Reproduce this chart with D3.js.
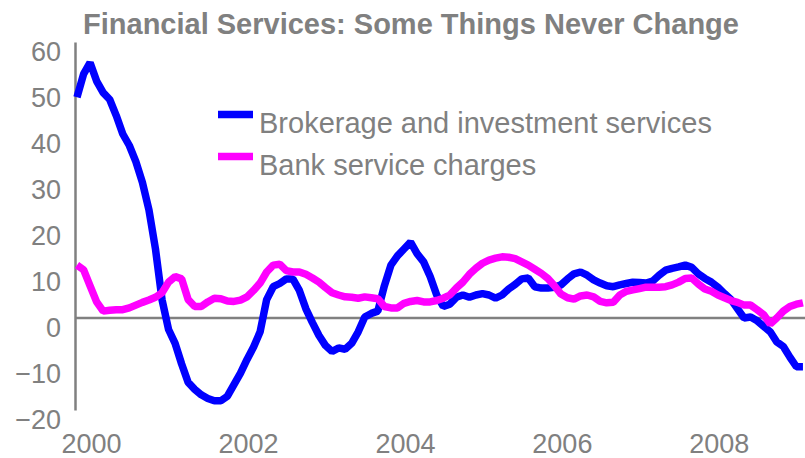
<!DOCTYPE html>
<html>
<head>
<meta charset="utf-8">
<script src="https://cdn.jsdelivr.net/npm/d3@7/dist/d3.min.js"></script>
<style>
  html, body { margin: 0; padding: 0; background: #fff; }
  svg { display: block; }
  text { font-family: "Liberation Sans", Arial, sans-serif; fill: #808080; }
</style>
</head>
<body>
<div id="chart"></div>
<script>
// Monthly data, Jan 2000 onward (month index 0 = Jan 2000)
const brokerage = [
  48, 53, 55.5, 51.5, 49, 47.5, 44, 40, 37.5, 34, 29.5, 23.5,
  15, 4, -2.5, -5.5, -10, -14, -15.5, -16.7, -17.5, -18, -18, -17,
  -14.5, -12, -9, -6.3, -3, 4, 6.8, 7.5, 8.5, 8.5, 6, 2,
  -1, -3.8, -6, -7.3, -6.5, -6.8, -5.5, -3, 0.2, 1, 1.5, 7,
  11.5, 13.5, 15, 16.5, 14, 12.2, 9, 5, 2.5, 3, 4.5, 5,
  4.5, 5, 5.3, 5, 4.3, 5, 6.3, 7.3, 8.5, 8.7, 6.8, 6.5,
  6.5, 6.7, 7.2, 8.5, 9.6, 10, 9.3, 8.3, 7.6, 7, 6.8, 7.2,
  7.5, 7.8, 7.7, 7.6, 8, 9.3, 10.4, 10.8, 11.1, 11.5, 11, 9.6,
  8.6, 7.8, 6.7, 5.3, 4, 2, 0, 0.2, -0.6, -1.8, -3, -5.2,
  -6.2, -8.5, -10.6, -10.6
];
const bank = [
  11.5, 10.5, 7, 3.5, 1.5, 1.7, 1.8, 1.8, 2.2, 2.8, 3.4, 3.9,
  4.5, 5.5, 7.8, 9, 8.5, 4, 2.5, 2.5, 3.5, 4.3, 4.2, 3.7,
  3.6, 3.9, 4.6, 6, 7.6, 10, 11.5, 11.7, 10.3, 10, 10, 9.5,
  8.7, 7.8, 6.6, 5.5, 5, 4.6, 4.5, 4.3, 4.6, 4.4, 4.2, 2.5,
  2.2, 2.2, 3.2, 3.6, 3.8, 3.5, 3.5, 3.8, 4.3, 5, 6.5, 7.8,
  9.5, 10.8, 11.9, 12.6, 13, 13.3, 13.2, 12.9, 12.2, 11.5, 10.6, 9.7,
  8.6, 7, 5.2, 4.4, 4.1, 4.8, 5, 4.6, 3.6, 3.3, 3.4, 5,
  5.8, 6.1, 6.4, 6.7, 6.7, 6.7, 6.8, 7.2, 7.8, 8.6, 8.7, 7.4,
  6.3, 5.8, 5, 4.4, 3.8, 3.4, 2.8, 2.8, 1.8, 0.7, -1.3, 0,
  1.5, 2.5, 3, 3.3
];
const yearLabels = ["2000", "2002", "2004", "2006", "2008"];
const yTicks = [-20, -10, 0, 10, 20, 30, 40, 50, 60];
const seriesNames = ["Brokerage and investment services", "Bank service charges"];
const seriesColors = ["#0000FF", "#FF00FF"];
const titleText = "Financial Services: Some Things Never Change";

const W = 805, H = 458;
const svg = d3.select("#chart").append("svg").attr("width", W).attr("height", H);

// x in months since Jan 2000
const x = d3.scaleLinear().domain([0, 112]).range([77, 77 + 112 * 6.54]);
const y = d3.scaleLinear().domain([-20, 60]).range([410, 42]);

// Title
svg.append("text")
  .attr("x", 411).attr("y", 34)
  .attr("text-anchor", "middle")
  .style("font-size", "29px").style("font-weight", "bold")
  .text(titleText);

// Y axis line
const yAxis = d3.axisLeft(y).tickValues(yTicks).tickSize(0).tickFormat(d3.format("d"));
const gy = svg.append("g").attr("transform", "translate(75,0)").call(yAxis);
gy.select(".domain").attr("stroke", "#808080").attr("stroke-width", 2.5);
gy.selectAll(".tick text")
  .attr("x", -14).attr("dy", "0.32em")
  .attr("transform", "translate(0,10)")
  .style("font-size", "27px").style("fill", "#808080")
  .style("font-family", "'Liberation Sans', Arial, sans-serif");

// Zero line
svg.append("line")
  .attr("x1", 75).attr("x2", W)
  .attr("y1", y(0)).attr("y2", y(0))
  .attr("stroke", "#808080").attr("stroke-width", 2.5);

// X labels
svg.append("g").selectAll("text").data(yearLabels).join("text")
  .attr("x", d => x((+d - 2000) * 12) + 14.5)
  .attr("y", 453)
  .attr("text-anchor", "middle")
  .style("font-size", "27px")
  .text(d => d);

// Lines
const line = d3.line().x((d, i) => x(i)).y(d => y(d));
[brokerage, bank].forEach((s, k) => {
  svg.append("path")
    .datum(s)
    .attr("fill", "none")
    .attr("stroke", seriesColors[k])
    .attr("stroke-width", 7.5)
    .attr("stroke-linejoin", "bevel")
    .attr("d", line);
});

// Legend
const lg = svg.append("g");
seriesNames.forEach((n, k) => {
  const cy = 114.5 + k * 42;
  lg.append("rect")
    .attr("x", 218).attr("y", cy - 3.75).attr("width", 35).attr("height", 7.5)
    .attr("fill", seriesColors[k]);
  lg.append("text")
    .attr("x", 259).attr("y", cy + 18)
    .style("font-size", "29px")
    .text(n);
});
</script>
</body>
</html>
